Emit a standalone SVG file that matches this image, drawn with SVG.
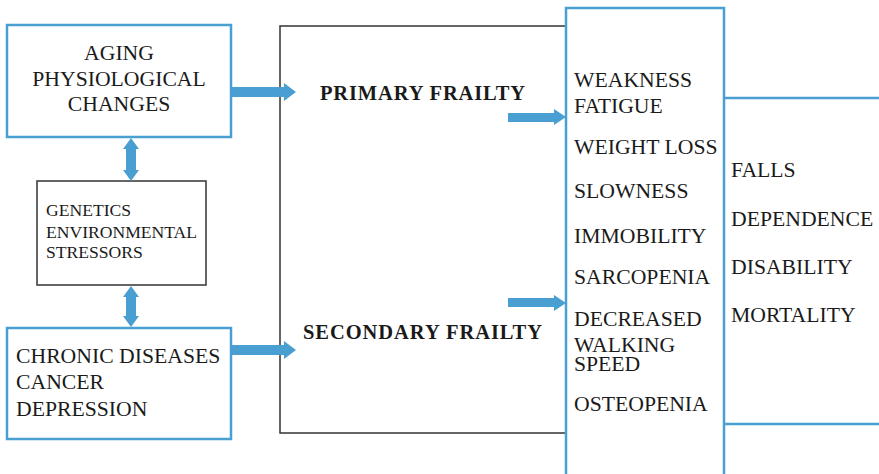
<svg xmlns="http://www.w3.org/2000/svg" width="879" height="474" viewBox="0 0 879 474">
<style>
.blue{fill:none;stroke:#4a9fd2;stroke-width:2.5}
.blk{fill:none;stroke:#333;stroke-width:1.5}
.arr{fill:#4a9fd2;stroke:none}
text{font-family:"Liberation Serif","Times New Roman",serif;fill:#1a1a1a}
.t{font-size:21.7px}
.s{font-size:17.6px}
.b{font-weight:bold;font-size:20.5px}
</style>
<rect width="879" height="474" fill="#fff"/>
<g id="frailty-box"><rect class="blk" x="280" y="26" width="286" height="407"/>
<text class="b" x="320" y="100" textLength="205">PRIMARY FRAILTY</text>
<text class="b" x="303" y="339" textLength="239">SECONDARY FRAILTY</text></g>
<g id="aging"><rect class="blue" x="7" y="25" width="224" height="112"/>
<text class="t" text-anchor="middle"><tspan x="119" y="60">AGING</tspan><tspan x="119" y="86">PHYSIOLOGICAL</tspan><tspan x="119" y="111">CHANGES</tspan></text></g>
<g id="genetics"><rect class="blk" x="37" y="181" width="169" height="104"/>
<text class="s"><tspan x="46" y="216">GENETICS</tspan><tspan x="46" y="238">ENVIRONMENTAL</tspan><tspan x="46" y="258">STRESSORS</tspan></text></g>
<g id="chronic"><rect class="blue" x="7" y="328" width="224" height="111"/>
<text class="t"><tspan x="16" y="363">CHRONIC DISEASES</tspan><tspan x="16" y="389">CANCER</tspan><tspan x="16" y="416">DEPRESSION</tspan></text></g>
<g id="symptoms"><rect class="blue" x="566" y="8" width="158" height="480"/>
<text class="t"><tspan x="574" y="87">WEAKNESS</tspan><tspan x="574" y="113">FATIGUE</tspan><tspan x="574" y="154">WEIGHT LOSS</tspan><tspan x="574" y="198">SLOWNESS</tspan><tspan x="574" y="243">IMMOBILITY</tspan><tspan x="574" y="284">SARCOPENIA</tspan><tspan x="574" y="326">DECREASED</tspan><tspan x="574" y="352">WALKING</tspan><tspan x="574" y="371">SPEED</tspan><tspan x="574" y="411">OSTEOPENIA</tspan></text></g>
<g id="outcomes"><path class="blue" d="M724 98H882M724 424H882"/>
<text class="t"><tspan x="731" y="177">FALLS</tspan><tspan x="731" y="226">DEPENDENCE</tspan><tspan x="731" y="274">DISABILITY</tspan><tspan x="731" y="322">MORTALITY</tspan></text></g>
<g id="connectors">
<polygon class="arr" points="231,87 284,87 284,83 296,92 284,101 284,97 231,97"/>
<polygon class="arr" points="231,345 284,345 284,341 296,350 284,359 284,355 231,355"/>
<polygon class="arr" points="508,113 554,113 554,109 566,117 554,125 554,122 508,122"/>
<polygon class="arr" points="508,298 554,298 554,295 566,303 554,311 554,307 508,307"/>
<polygon class="arr" points="131,138 139,149 136,149 136,170 139,170 131,181 123,170 126,170 126,149 123,149"/>
<polygon class="arr" points="131,286 139,297 136,297 136,316 139,316 131,327 123,316 126,316 126,297 123,297"/>
</g>
</svg>
